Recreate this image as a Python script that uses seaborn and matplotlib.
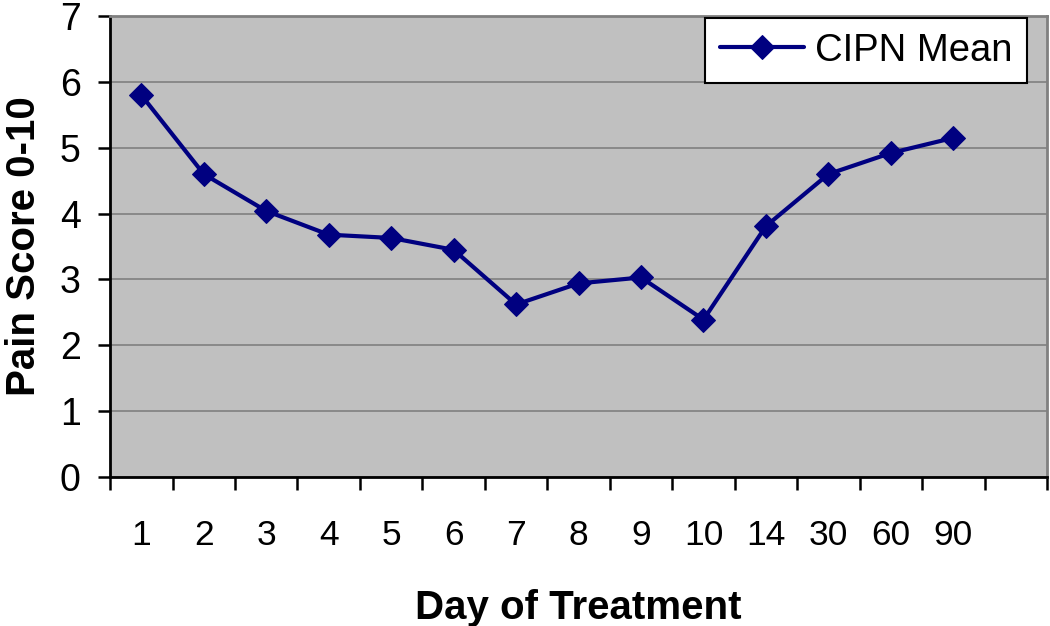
import matplotlib
matplotlib.use('Agg')
import matplotlib.pyplot as plt
import matplotlib.ticker as mticker
import numpy as np
import pandas as pd
import seaborn as sns

# values
days = ['1', '2', '3', '4', '5', '6', '7', '8', '9', '10', '14', '30', '60', '90']
cipn_mean = [5.80, 4.60, 4.04, 3.68, 3.63, 3.45, 2.62, 2.94, 3.03, 2.39, 3.81, 4.60, 4.92, 5.15]

sns.set_theme(style='white')
plt.rcParams['font.family'] = ['Liberation Sans', 'DejaVu Sans']
for key in ['text.color', 'axes.labelcolor', 'xtick.color', 'ytick.color']:
    plt.rcParams[key] = 'black'

df = pd.DataFrame({'day': days, 'score': cipn_mean})

fig = plt.figure(figsize=(10.5, 6.26), dpi=100)
ax = fig.add_axes([0.1048, 0.238, 0.8924, 0.7364])

sns.lineplot(data=df, x='day', y='score', ax=ax, sort=False,
             color='#000080', linewidth=3, marker='D', markersize=12.5,
             markeredgecolor='#000080', label='CIPN Mean')

# one empty slot after the last day, like the original
ax.set_xlim(-0.5, len(days) + 0.5)
ax.set_ylim(0, 7)
ax.set_facecolor('#C0C0C0')
ax.set_axisbelow(True)
ax.yaxis.grid(True, color='#808080', linewidth=1.2)
ax.xaxis.grid(False)

for side in ['left', 'bottom']:
    ax.spines[side].set_color('black')
    ax.spines[side].set_linewidth(2)
for side in ['top', 'right']:
    ax.spines[side].set_color('#808080')
    ax.spines[side].set_linewidth(2)

ax.set_yticks(range(0, 8))
ax.tick_params(axis='y', direction='out', length=9, width=1.8, pad=12,
               labelsize=27, color='black', left=True)
ax.xaxis.set_minor_locator(mticker.FixedLocator(np.arange(-0.5, len(days) + 1, 1)))
ax.tick_params(axis='x', which='major', length=0, pad=30, labelsize=25.5)
ax.tick_params(axis='x', which='minor', direction='out', length=9, width=1.8,
               color='black', bottom=True)

ax.set_xlabel('Day of Treatment', fontsize=29, fontweight='bold', labelpad=27)
ax.set_ylabel('Pain Score 0-10', fontsize=29, fontweight='bold', labelpad=12)

leg = ax.legend(loc='upper right', bbox_to_anchor=(0.9787, 0.9957), borderaxespad=0,
                frameon=True, fancybox=False, edgecolor='black', fontsize=27.5,
                handlelength=2.2, handletextpad=0.3, borderpad=0.38)
leg.get_frame().set_linewidth(1.5)
leg.get_frame().set_facecolor('white')
leg.get_frame().set_alpha(1)

fig.savefig('out.png', dpi=100)
